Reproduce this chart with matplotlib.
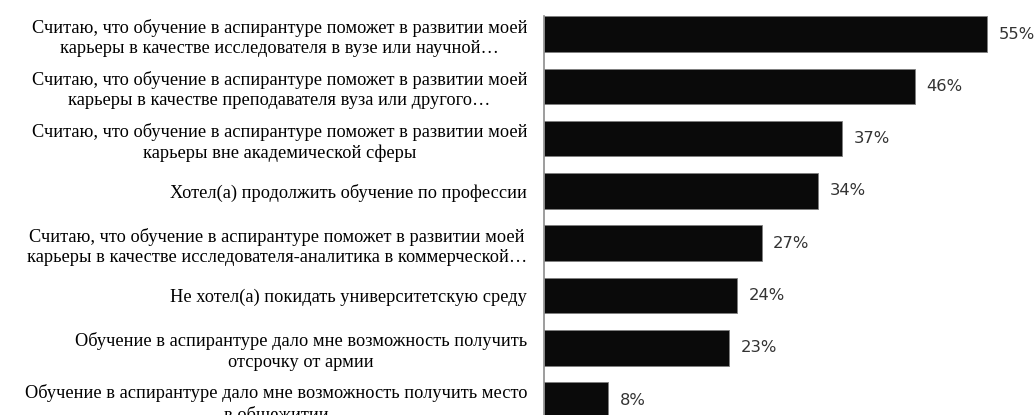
import numpy as np
import matplotlib.pyplot as plt

# Reasons for choosing postgraduate study, share of respondents
categories = [
    'Считаю, что обучение в аспирантуре поможет в развитии моей\nкарьеры в качестве исследователя в вузе или научной…',
    'Считаю, что обучение в аспирантуре поможет в развитии моей\nкарьеры в качестве преподавателя вуза или другого…',
    'Считаю, что обучение в аспирантуре поможет в развитии моей\nкарьеры вне академической сферы',
    'Хотел(а) продолжить обучение по профессии',
    'Считаю, что обучение в аспирантуре поможет в развитии моей\nкарьеры в качестве исследователя-аналитика в коммерческой…',
    'Не хотел(а) покидать университетскую среду',
    'Обучение в аспирантуре дало мне возможность получить\nотсрочку от армии',
    'Обучение в аспирантуре дало мне возможность получить место\nв общежитии',
]
values = [55, 46, 37, 34, 27, 24, 23, 8]

fig = plt.figure(figsize=(10.34, 4.15), dpi=100)
ax = fig.add_axes([0.526, -0.027, 0.468, 0.989])

y = np.arange(len(values))
ax.barh(y, values, height=0.68, color='#0a0a0a', edgecolor='#7f7f7f', linewidth=0.6)

for yi, v in zip(y, values):
    ax.text(v + 1.4, yi, f'{v}%', va='center', ha='left',
            fontsize=11.8, color='#333333', family='DejaVu Sans')

ax.set_xlim(0, 60)
ax.set_ylim(7.5, -0.35)
ax.set_yticks(y)
ax.set_yticklabels(categories, family='Liberation Serif', fontsize=13.2)
for lbl in ax.get_yticklabels():
    lbl.set_multialignment('center')
    lbl.set_linespacing(1.27)
ax.tick_params(axis='y', length=0, pad=12)
ax.set_xticks([])

for s in ['top', 'right', 'bottom']:
    ax.spines[s].set_visible(False)
ax.spines['left'].set_color('#8c8c8c')
ax.spines['left'].set_linewidth(1.2)

fig.savefig('out.png', dpi=100)
